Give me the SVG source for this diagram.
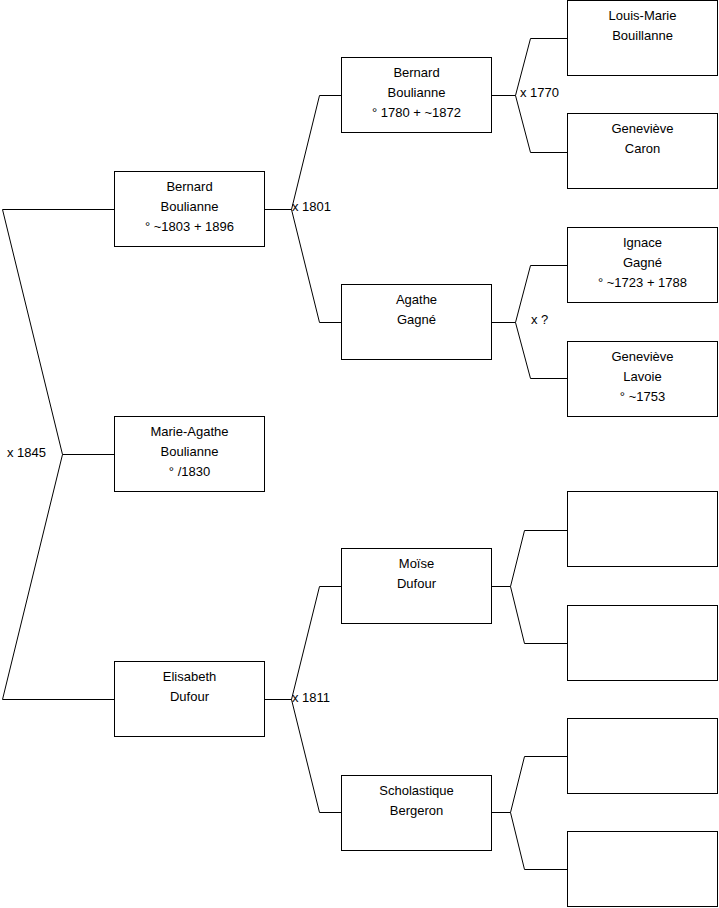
<svg xmlns="http://www.w3.org/2000/svg" width="719" height="908" viewBox="0 0 719 908">
<style>
.box{fill:#fff;stroke:#000;stroke-width:1}
.ln{fill:none;stroke:#000;stroke-width:1}
text{font-family:"Liberation Sans",Arial,sans-serif;font-size:13px;fill:#000}
.c{text-anchor:middle}
</style>
<rect width="719" height="908" fill="#fff"/>
<g id="connectors">
<path class="ln" d="M114,209.5 H2.5 L62.5,454.5 L2.5,699.5 H114 M62.5,454.5 H114"/>
<path class="ln" d="M265,209.5 H291.5 M341,95.5 H319.5 L291.5,209.5 L319.5,322.5 H341"/>
<path class="ln" d="M492,95.5 H515.5 M567,38.5 H530.5 L515.5,95.5 L530.5,152.5 H567"/>
<path class="ln" d="M492,322.5 H515.5 M567,265.5 H530.5 L515.5,322.5 L530.5,378.5 H567"/>
<path class="ln" d="M265,699.5 H291.5 M341,586.5 H319.5 L291.5,699.5 L319.5,812.5 H341"/>
<path class="ln" d="M492,586.5 H510.5 M567,530.5 H524.5 L510.5,586.5 L524.5,643.5 H567"/>
<path class="ln" d="M492,812.5 H510.5 M567,756.5 H524.5 L510.5,812.5 L524.5,869.5 H567"/>
<text x="7" y="457">x 1845</text>
<text x="292" y="211">x 1801</text>
<text x="520" y="97">x 1770</text>
<text x="531" y="324">x ?</text>
<text x="292" y="702">x 1811</text>
</g>
<g id="n-bernard-1803">
<rect class="box" x="114.5" y="171.5" width="150" height="75"/>
<text class="c" x="189.5" y="191">Bernard</text>
<text class="c" x="189.5" y="211">Boulianne</text>
<text class="c" x="189.5" y="231">° ~1803 + 1896</text>
</g>
<g id="n-marie-agathe">
<rect class="box" x="114.5" y="416.5" width="150" height="75"/>
<text class="c" x="189.5" y="436">Marie-Agathe</text>
<text class="c" x="189.5" y="456">Boulianne</text>
<text class="c" x="189.5" y="476">° /1830</text>
</g>
<g id="n-elisabeth">
<rect class="box" x="114.5" y="661.5" width="150" height="75"/>
<text class="c" x="189.5" y="681">Elisabeth</text>
<text class="c" x="189.5" y="701">Dufour</text>
</g>
<g id="n-bernard-1780">
<rect class="box" x="341.5" y="57.5" width="150" height="75"/>
<text class="c" x="416.5" y="77">Bernard</text>
<text class="c" x="416.5" y="97">Boulianne</text>
<text class="c" x="416.5" y="117">° 1780 + ~1872</text>
</g>
<g id="n-agathe">
<rect class="box" x="341.5" y="284.5" width="150" height="75"/>
<text class="c" x="416.5" y="304">Agathe</text>
<text class="c" x="416.5" y="324">Gagné</text>
</g>
<g id="n-moise">
<rect class="box" x="341.5" y="548.5" width="150" height="75"/>
<text class="c" x="416.5" y="568">Moïse</text>
<text class="c" x="416.5" y="588">Dufour</text>
</g>
<g id="n-scholastique">
<rect class="box" x="341.5" y="775.5" width="150" height="75"/>
<text class="c" x="416.5" y="795">Scholastique</text>
<text class="c" x="416.5" y="815">Bergeron</text>
</g>
<g id="n-louis-marie">
<rect class="box" x="567.5" y="0.5" width="150" height="75"/>
<text class="c" x="642.5" y="20">Louis-Marie</text>
<text class="c" x="642.5" y="40">Bouillanne</text>
</g>
<g id="n-genevieve-caron">
<rect class="box" x="567.5" y="113.5" width="150" height="75"/>
<text class="c" x="642.5" y="133">Geneviève</text>
<text class="c" x="642.5" y="153">Caron</text>
</g>
<g id="n-ignace">
<rect class="box" x="567.5" y="227.5" width="150" height="75"/>
<text class="c" x="642.5" y="247">Ignace</text>
<text class="c" x="642.5" y="267">Gagné</text>
<text class="c" x="642.5" y="287">° ~1723 + 1788</text>
</g>
<g id="n-genevieve-lavoie">
<rect class="box" x="567.5" y="341.5" width="150" height="75"/>
<text class="c" x="642.5" y="361">Geneviève</text>
<text class="c" x="642.5" y="381">Lavoie</text>
<text class="c" x="642.5" y="401">° ~1753</text>
</g>
<g id="n-empty-1"><rect class="box" x="567.5" y="491.5" width="150" height="75"/></g>
<g id="n-empty-2"><rect class="box" x="567.5" y="605.5" width="150" height="75"/></g>
<g id="n-empty-3"><rect class="box" x="567.5" y="718.5" width="150" height="75"/></g>
<g id="n-empty-4"><rect class="box" x="567.5" y="831.5" width="150" height="75"/></g>
</svg>
